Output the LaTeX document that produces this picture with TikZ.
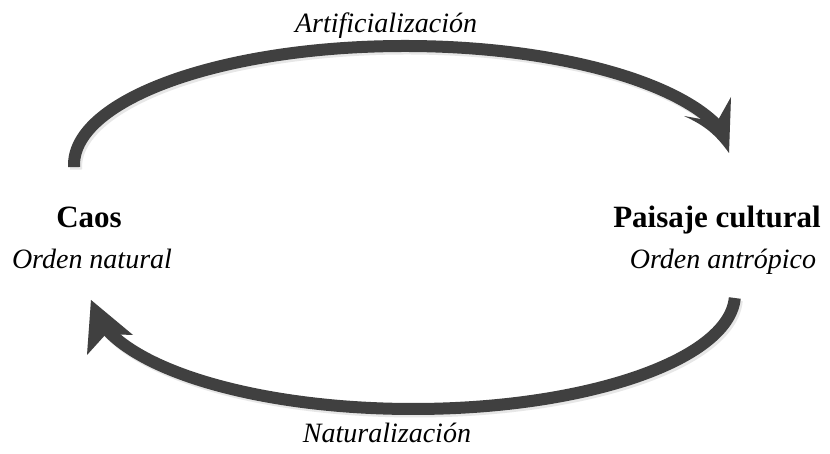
\documentclass[tikz,border=0pt]{standalone}
\usepackage{fontspec}
\setmainfont{Liberation Serif}
\definecolor{arrowgray}{HTML}{404040}
\tikzset{
  shaft/.style={draw=arrowgray, line width=12pt},
  head/.style={fill=arrowgray},
  shadowshaft/.style={draw=black!30, line width=12pt, opacity=0.3},
  shadowhead/.style={fill=black!30, opacity=0.3},
  titletext/.style={font=\fontsize{31}{34}\selectfont\bfseries, anchor=base, inner sep=0pt},
  subtext/.style={font=\fontsize{28}{30}\selectfont\itshape, anchor=base, inner sep=0pt},
}
\begin{document}
\begin{tikzpicture}[x=1pt,y=1pt]
\useasboundingbox[fill=white] (0,0) rectangle (830,454);
% head points (y measured upwards)
\coordinate (ttip) at (729,301);
\coordinate (tA) at (731,357);
\coordinate (tN) at (717,332);
\coordinate (tB) at (684,338);
\coordinate (btip) at (91,154);
\coordinate (bA) at (87,99);
\coordinate (bN) at (106,120);
\coordinate (bB) at (133,119);
% shadows
\begin{scope}[shift={(2,-2.5)}]
\path[shadowshaft] (405,289) ++(181:331 and 119) arc[start angle=181, end angle=20, x radius=331, y radius=119];
\path[shadowshaft] (413,160) ++(-2:322 and 115) arc[start angle=-2, end angle=-162, x radius=322, y radius=115];
\path[shadowhead] (ttip) -- (tA) -- (tN) -- (tB) to[bend left=15] cycle;
\path[shadowhead] (btip) -- (bB) -- (bN) -- (bA) -- cycle;
\end{scope}
% arrows
\path[shaft] (405,289) ++(181:331 and 119) arc[start angle=181, end angle=20, x radius=331, y radius=119];
\path[head] (ttip) -- (tA) -- (tN) -- (tB) to[bend left=15] cycle;
\path[shaft] (413,160) ++(-2:322 and 115) arc[start angle=-2, end angle=-162, x radius=322, y radius=115];
\path[head] (btip) -- (bB) -- (bN) -- (bA) -- cycle;
% texts
\node[titletext] (caos) at (89,226) {Caos};
\node[subtext] (ordnat) at (92,185) {Orden natural};
\node[titletext] (paisaje) at (717,226) {Paisaje cultural};
\node[subtext] (ordant) at (723,185) {Orden antrópico};
\node[subtext] (artif) at (386,421) {Artificialización};
\node[subtext] (natur) at (387,11) {Naturalización};
\end{tikzpicture}
\end{document}
